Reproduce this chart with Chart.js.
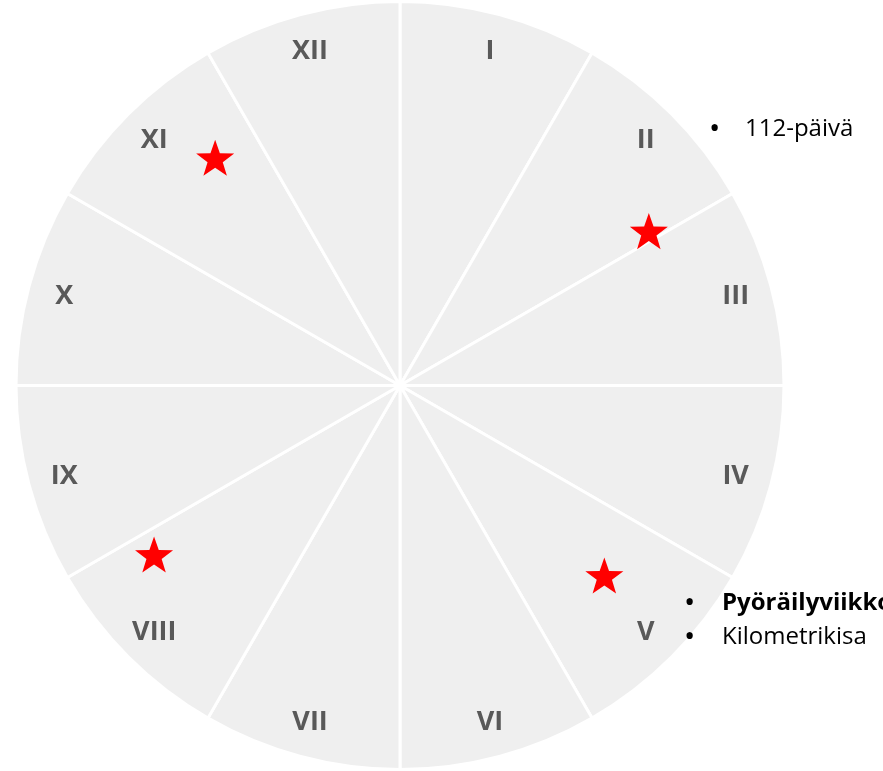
<!DOCTYPE html>
<html>
<head>
<meta charset="utf-8">
<script src="https://cdn.jsdelivr.net/npm/chart.js@4.4.1/dist/chart.umd.min.js"></script>
<style>
  html, body { margin: 0; padding: 0; background: #fff; overflow: hidden; }
  #wrap { position: relative; width: 883px; height: 771px; overflow: hidden; }
  .note { position: absolute; margin: 0; padding: 0; list-style: none;
          font-family: 'Open Sans', sans-serif; font-size: 24px; color: #000; white-space: nowrap; }
  .note li { position: relative; height: 34px; line-height: 34px; }
  .note li::before { content: '\2022'; position: absolute; font-size: 30px; font-weight: normal; }
  #note1 li::before { left: -36px; }
  #note2 li::before { left: -38px; }
</style>
</head>
<body>
<div id="wrap">
  <canvas id="wheel" width="883" height="771"></canvas>
  <ul class="note" id="note1" style="left:745px; top:110px;"></ul>
  <ul class="note" id="note2" style="left:722px; top:584px;"></ul>
</div>
<script>
// Months as roman numerals, clockwise from the top
const months = ['I', 'II', 'III', 'IV', 'V', 'VI', 'VII', 'VIII', 'IX', 'X', 'XI', 'XII'];
const monthWeights = [1, 1, 1, 1, 1, 1, 1, 1, 1, 1, 1, 1];

// Star markers: month slice, position along the slice (0..1), distance from centre (0..1)
const starMonths = ['II', 'V', 'VIII', 'XI'];
const starAlong = [0.95, 0.44, 0.84, 0.69];
const starDist = [0.76, 0.73, 0.78, 0.76];

// Event notes beside the wheel
const notesTop = ['112-päivä'];
const notesBottom = ['Pyöräilyviikko', 'Kilometrikisa'];
const notesBottomBold = [true, false];

function fillNotes(id, items, bold) {
    const ul = document.getElementById(id);
    items.forEach((t, i) => {
        const li = document.createElement('li');
        li.textContent = t;
        if (bold && bold[i]) li.style.fontWeight = 'bold';
        ul.appendChild(li);
    });
}
fillNotes('note1', notesTop);
fillNotes('note2', notesBottom, notesBottomBold);

function drawStar(ctx, cx, cy, outer, inner) {
    ctx.beginPath();
    for (let i = 0; i < 10; i++) {
        const r = i % 2 === 0 ? outer : inner;
        const a = -Math.PI / 2 + i * Math.PI / 5;
        const x = cx + r * Math.cos(a);
        const y = cy + r * Math.sin(a);
        if (i === 0) ctx.moveTo(x, y); else ctx.lineTo(x, y);
    }
    ctx.closePath();
    ctx.fill();
}

const wheelDecor = {
    id: 'wheelDecor',
    afterDatasetsDraw(chart) {
        const ctx = chart.ctx;
        const arcs = chart.getDatasetMeta(0).data;
        ctx.save();

        // month labels
        ctx.font = "bold 27px 'Open Sans', sans-serif";
        ctx.fillStyle = '#595959';
        ctx.textAlign = 'center';
        ctx.textBaseline = 'middle';
        arcs.forEach((arc, i) => {
            const mid = (arc.startAngle + arc.endAngle) / 2;
            const r = arc.outerRadius * 0.905;
            ctx.fillText(months[i], arc.x + r * Math.cos(mid), arc.y + r * Math.sin(mid) + 1);
        });

        // stars
        ctx.fillStyle = '#FF0000';
        starMonths.forEach((m, i) => {
            const arc = arcs[months.indexOf(m)];
            const a = arc.startAngle + (arc.endAngle - arc.startAngle) * starAlong[i];
            const r = arc.outerRadius * starDist[i];
            drawStar(ctx, arc.x + r * Math.cos(a), arc.y + r * Math.sin(a), 20, 8);
        });
        ctx.restore();
    }
};

new Chart(document.getElementById('wheel').getContext('2d'), {
    type: 'pie',
    data: {
        labels: months,
        datasets: [{
            data: monthWeights,
            backgroundColor: '#EFEFEF',
            borderColor: '#FFFFFF',
            borderWidth: 3
        }]
    },
    options: {
        responsive: false,
        animation: false,
        layout: { padding: { left: 14, right: 97, top: 0, bottom: 0 } },
        plugins: {
            legend: { display: false },
            tooltip: { enabled: false }
        }
    },
    plugins: [wheelDecor]
});
</script>
</body>
</html>
